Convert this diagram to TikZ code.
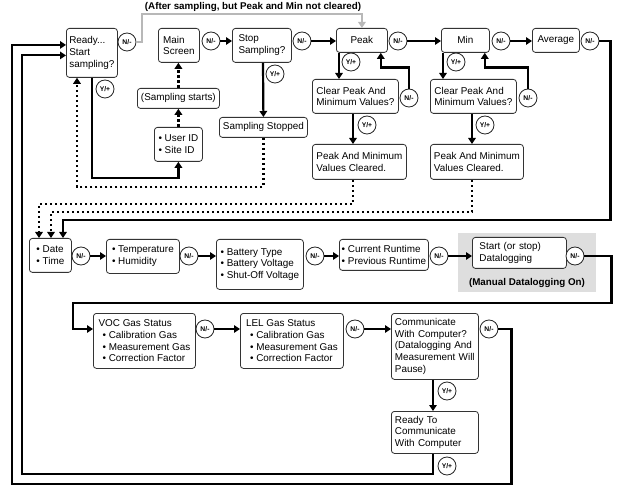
\documentclass[tikz,border=0pt]{standalone}
\usepackage{fontspec}
\setmainfont{Liberation Sans}
\usetikzlibrary{arrows.meta,calc}
\newcommand\mkbox[7][]{\node[box,#1,anchor=north west,minimum width={#5-#3},minimum height={#6-#4}] (#2) at (#3,#4) {#7};}
\begin{document}
\begin{tikzpicture}[x=1pt,y=-1pt,
 box/.style={draw=black!80, line width=0.8pt, rounded corners=3pt, fill=white, inner sep=0pt, align=left, font=\fontsize{9.9}{11.7}\selectfont},
 circ/.style={circle, draw=black!85, line width=0.8pt, fill=white, minimum size=18pt, inner sep=0pt, font=\bfseries\fontsize{6.8}{7}\selectfont},
 arr/.style={line width=2.2pt, -{Triangle[length=6pt,width=7.5pt]}},
 dotarr/.style={arr, dash pattern=on 2.5pt off 2.5pt},
 grayarr/.style={line width=1.8pt, draw=black!28, -{Triangle[length=6pt,width=7.5pt]}},
 lbl/.style={font=\bfseries\fontsize{9.8}{11.6}\selectfont, inner sep=0pt}
]
\useasboundingbox (0,0) rectangle (618,494);
\fill[black!13] (458,233) rectangle (596,292);

% boxes
\mkbox{ready}{66}{28}{117}{77}{Ready...\\Start\\sampling?}
\mkbox{main}{158}{28}{199}{62}{Main\\Screen}
\mkbox{stop}{232}{28}{291}{62}{Stop\\Sampling?}
\mkbox[align=center]{sstart}{137}{88}{219}{108}{(Sampling starts)}
\mkbox{user}{154}{127}{202}{161}{• User ID\\• Site ID}
\mkbox[align=center]{sstop}{219}{117}{307}{137}{Sampling Stopped}
\mkbox[align=center]{peak}{336}{28}{387}{52}{Peak}
\mkbox[align=center]{min}{441}{28}{489}{52}{Min}
\mkbox[align=center]{avg}{532}{28}{579}{52}{Average}
\mkbox{clear1}{312}{79}{398}{113}{Clear Peak And\\Minimum Values?}
\mkbox{cleared1}{312}{144}{406}{179}{Peak And Minimum\\Values Cleared.}
\mkbox{clear2}{430}{79}{516}{113}{Clear Peak And\\Minimum Values?}
\mkbox{cleared2}{430}{144}{523}{179}{Peak And Minimum\\Values Cleared.}
\mkbox{date}{29}{238}{71}{272}{• Date\\• Time}
\mkbox{temp}{106}{239}{179}{273}{• Temperature\\• Humidity}
\mkbox{batt}{216}{239}{303}{289}{• Battery Type\\• Battery Voltage\\• Shut-Off Voltage}
\mkbox{runtime}{339}{239}{428}{270}{• Current Runtime\\• Previous Runtime}
\mkbox[text width=80pt]{start}{472}{237}{566}{268}{Start (or stop)\\Datalogging}
\mkbox{voc}{93}{313}{195}{368}{VOC Gas Status\\\hspace*{4pt}• Calibration Gas\\\hspace*{4pt}• Measurement Gas\\\hspace*{4pt}• Correction Factor}
\mkbox{lel}{240}{313}{343}{368}{LEL Gas Status\\\hspace*{4pt}• Calibration Gas\\\hspace*{4pt}• Measurement Gas\\\hspace*{4pt}• Correction Factor}
\mkbox[text width=80pt]{comm}{391}{313}{478}{379}{Communicate\\With Computer?\\(Datalogging~And\\Measurement~Will\\Pause)}
\mkbox[text width=80pt]{rtc}{391}{411}{478}{453}{Ready To\\Communicate\\With Computer}

% labels
\node[lbl] (toplbl) at (253,7) {(After sampling, but Peak and Min not cleared)};
\node[lbl] (manlbl) at (527,283) {(Manual Datalogging On)};

% circles
\node[circ] (c1) at (127,42) {N/-};
\node[circ] (yR) at (105,89) {Y/+};
\node[circ] (c2) at (211,41) {N/-};
\node[circ] (c3) at (302,41) {N/-};
\node[circ] (yS) at (275,74) {Y/+};
\node[circ] (c4) at (398,41) {N/-};
\node[circ] (yP) at (351,62) {Y/+};
\node[circ] (nC1) at (409,98) {N/-};
\node[circ] (yC1) at (367,125) {Y/+};
\node[circ] (c5) at (501,41) {N/-};
\node[circ] (yM) at (456,62) {Y/+};
\node[circ] (nC2) at (528,98) {N/-};
\node[circ] (yC2) at (485,125) {Y/+};
\node[circ] (c6) at (590,41) {N/-};
\node[circ] (d) at (81,256) {N/-};
\node[circ] (t) at (189,256) {N/-};
\node[circ] (b) at (315,256) {N/-};
\node[circ] (r) at (439,256) {N/-};
\node[circ] (s) at (575,256) {N/-};
\node[circ] (v) at (205,329) {N/-};
\node[circ] (l) at (355,329) {N/-};
\node[circ] (cm) at (489,329) {N/-};
\node[circ] (yCm) at (447,391) {Y/+};
\node[circ] (yRt) at (447,466) {Y/+};

% connectors
\draw[grayarr] (c1.east) -| (142,14) -| (peak.north);
\draw[arr] (c2.east) -- (c2.east -| stop.west);
\draw[arr] (c3.east) -- (c3.east -| peak.west);
\draw[arr] (c4.east) -- (c4.east -| min.west);
\draw[arr] (c5.east) -- (c5.east -| avg.west);
\draw[arr] ([xshift=26pt]ready.south west) -- ++(0,100) -| (user.south);
\draw[dotarr] (user.north) -- (sstart.south);
\draw[dotarr] (sstart.north) -- (sstart.north |- main.south);
\draw[arr] ([xshift=31pt]stop.south west) -- (sstop.north);
\draw[dotarr] (sstop.south) -- ++(0,49) -| ([xshift=11pt]ready.south west);
\draw[arr] ([xshift=3pt]peak.south west) -- ([xshift=27pt]clear1.north west);
\draw[arr] (nC1.north) -- ++(0,-21) -| ([xshift=-7pt]peak.south east);
\draw[arr] ([xshift=41pt]clear1.south west) -- ([xshift=41pt]cleared1.north west);
\draw[arr] ([xshift=2pt]min.south west) -- ([xshift=13pt]clear2.north west);
\draw[arr] (nC2.north) -- ++(0,-21) -| ([xshift=-5pt]min.south east);
\draw[arr] ([xshift=42pt]clear2.south west) -- ([xshift=42pt]cleared2.north west);
\draw[dotarr] ([xshift=41pt]cleared1.south west) -- ++(0,24) -| ([xshift=10pt]date.north west);
\draw[dotarr] ([xshift=42pt]cleared2.south west) -- ++(0,32) -| ([xshift=22pt]date.north west);
\draw[arr] (c6.east) -- ++(11,0) -- ++(0,179) -| ([xshift=34pt]date.north west);
\draw[arr] (d.east) -- (d.east -| temp.west);
\draw[arr] (t.east) -- (t.east -| batt.west);
\draw[arr] (b.east) -- (b.east -| runtime.west);
\draw[arr] (r.east) -- (r.east -| start.west);
\draw[arr] (s.east) -- ++(27,0) -- ++(0,47) -| (73,320) |- (voc.west |- v.center);
\draw[arr] (v.east) -- (v.east -| lel.west);
\draw[arr] (l.east) -- (l.east -| comm.west);
\draw[arr] ([xshift=42pt]comm.south west) -- ([xshift=42pt]rtc.north west);
\draw[arr] ([xshift=42pt]rtc.south west) -- ++(0,20) -| (22,300) |- ([yshift=-2.5pt]ready.west);
\draw[arr] (cm.east) -- ++(13,0) -- ++(0,155) -| (12,300) |- ([yshift=8pt]ready.west);
\end{tikzpicture}
\end{document}
